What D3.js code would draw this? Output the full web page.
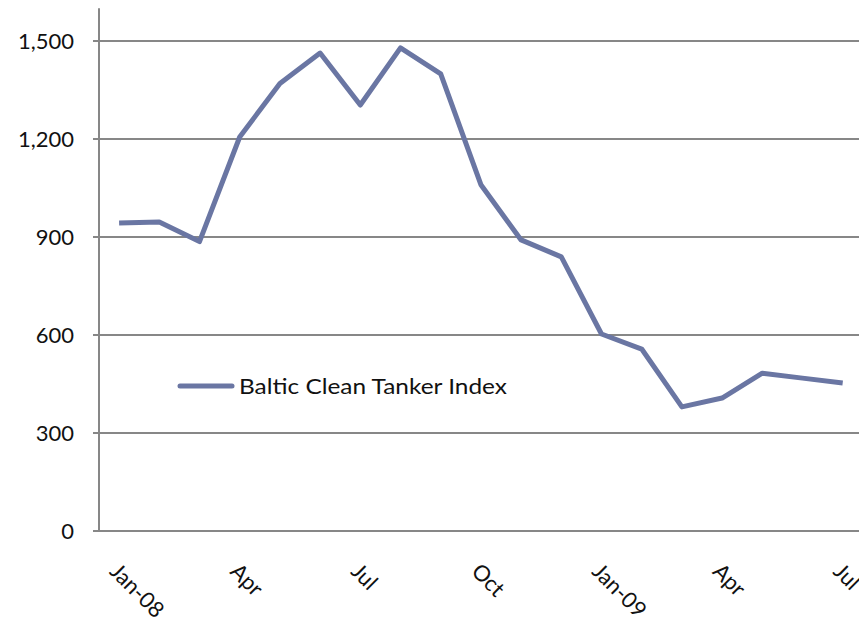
<!DOCTYPE html>
<html><head><meta charset="utf-8">
<script src="https://cdn.jsdelivr.net/npm/d3@7"></script>
<style>body{margin:0;background:#fff;}svg{display:block;font-family:Lato,"Open Sans",sans-serif;}</style>
</head><body>
<script>
const months = ["Jan-08","Feb-08","Mar-08","Apr-08","May-08","Jun-08","Jul-08","Aug-08","Sep-08","Oct-08","Nov-08","Dec-08","Jan-09","Feb-09","Mar-09","Apr-09","May-09","Jun-09","Jul-09"];
const tickLabels = ["Jan-08","","","Apr","","","Jul","","","Oct","","","Jan-09","","","Apr","","","Jul"];
const values = [943,946,886,1206,1370,1463,1304,1479,1399,1060,891,839,603,557,380,407,483,468,453];
const yTicks = [0,300,600,900,1200,1500];
const seriesName = "Baltic Clean Tanker Index";

const W = 859, H = 624;
const svg = d3.select("body").append("svg").attr("width", W).attr("height", H);
const x = d3.scaleBand().domain(months).range([99, 99 + 19*40.2]);
const y = d3.scaleLinear().domain([0,1600]).range([531, 8.3]);
const grey = "#878787";

svg.append("g").selectAll("line").data(yTicks).join("line")
  .attr("x1", 93).attr("x2", W).attr("y1", d=>y(d)).attr("y2", d=>y(d))
  .attr("stroke", grey).attr("stroke-width", 2);
svg.append("line").attr("x1",99).attr("x2",99).attr("y1",y(1600)).attr("y2",y(0)).attr("stroke",grey).attr("stroke-width",2);
svg.append("g").selectAll("text").data(yTicks).join("text")
  .attr("x", 74).attr("y", d=>y(d)).attr("dy","0.35em").attr("text-anchor","end")
  .attr("font-size", 22).attr("fill","#111").text(d=>d3.format(",")(d));
svg.append("g").selectAll("text").data(months.map((m,i)=>({m, l:tickLabels[i]})).filter(d=>d.l)).join("text")
  .attr("transform", d=>`translate(${x(d.m)+x.bandwidth()/2+1},${561}) rotate(45)`)
  .attr("text-anchor","start").attr("dy","0.75em").attr("font-size",22).attr("fill","#111").text(d=>d.l);
const line = d3.line().x((d,i)=>x(months[i])+x.bandwidth()/2).y(d=>y(d));
svg.append("path").datum(values).attr("d", line).attr("fill","none")
  .attr("stroke","#6a76a3").attr("stroke-width",5).attr("stroke-linejoin","round");
svg.append("line").attr("x1",180).attr("x2",232).attr("y1",386).attr("y2",386)
  .attr("stroke","#6a76a3").attr("stroke-width",5).attr("stroke-linecap","round");
svg.append("text").attr("x",239).attr("y",386).attr("dy","0.35em").attr("font-size",22)
  .attr("textLength",268).attr("lengthAdjust","spacingAndGlyphs")
  .attr("fill","#111").text(seriesName);
</script>
</body></html>
